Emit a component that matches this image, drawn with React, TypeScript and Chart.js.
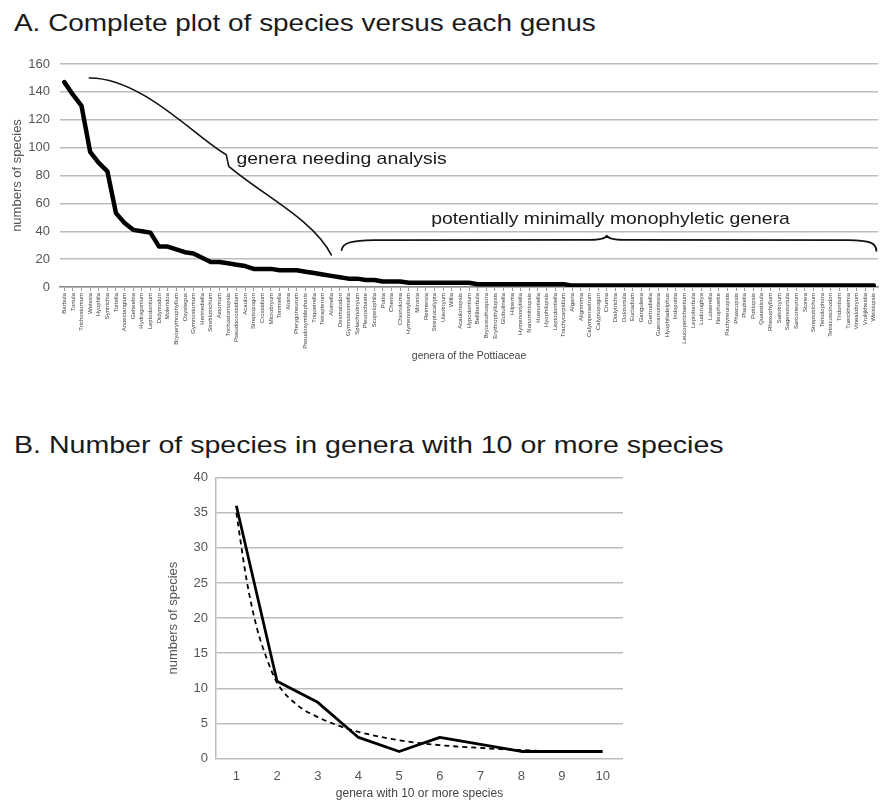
import React, { useEffect, useRef } from 'react';
import { Chart, registerables } from 'chart.js';

Chart.register(...registerables);

const FONT = '"Liberation Sans", Arial, Helvetica, sans-serif';
Chart.defaults.font.family = FONT;

// ---------- Panel A data ----------
const genera = [
  'Barbula', 'Tortula', 'Trichostomum', 'Weissia', 'Hyophila', 'Syntrichia', 'Tortella', 'Anoectangium',
  'Geheebia', 'Hydrogonium', 'Leptodontium', 'Didymodon', 'Molendoa', 'Bryoerythrophyllum', 'Oxystegus',
  'Gymnostomum', 'Hennediella', 'Streblotrichum', 'Astomum', 'Trichostomopsis', 'Pseudocrossidium', 'Acaulon',
  'Streptopogon', 'Crossidium', 'Microbryum', 'Timmiella', 'Aloina', 'Pterygoneurum', 'Pseudosymblepharis',
  'Triquetrella', 'Tetrapterum', 'Aloinella', 'Desmatodon', 'Gymnostomiella', 'Splachnobryum', 'Pleurochaete',
  'Scopelophila', 'Pottia', 'Chenia', 'Chionoloma', 'Hymenostylium', 'Mironia', 'Reimersia', 'Streptocalypta',
  'Uleobryum', 'Willia', 'Acaulonopsis', 'Hypodontium', 'Bellibarbula', 'Bryoceuthospora', 'Erythrophyllopsis',
  'Globulinella', 'Hilpertia', 'Hymenostyliella', 'Nanomitriopsis', 'Husnotiella', 'Hyophilopsis',
  'Leptodontiella', 'Trachycarpidium', 'Algaria', 'Aligrimmia', 'Calymperastrum', 'Calyptopogon', 'Crumia',
  'Dialytrichia', 'Dolotortula', 'Eucladium', 'Ganguleea', 'Gertrudiella', 'Guerramontesia', 'Hyophiladelphus',
  'Indopottia', 'Leucoperichaetium', 'Leptobarbula', 'Ludorugbya', 'Luisierella', 'Neophoebe', 'Pachyneuropsis',
  'Phascopsis', 'Plaubelia', 'Pottiopsis', 'Quaesticula', 'Rhexophyllum', 'Saitobryum', 'Sagenotortula',
  'Sarconeurum', 'Stonea', 'Streptotrichum', 'Teniolophora', 'Tetracoscinodon', 'Tridontium', 'Tuerckheimia',
  'Vinealobryum', 'Vrolijkheidia', 'Weisiopsis',
];

const speciesPerGenus = [
  147, 138, 130, 97, 89, 83, 53, 46, 41, 40,
  39, 29, 29, 27, 25, 24, 21, 18, 18, 17,
  16, 15, 13, 13, 13, 12, 12, 12, 11, 10,
  9, 8, 7, 6, 6, 5, 5, 4, 4, 4,
  3, 3, 3, 3, 3, 3, 3, 3,
  2, 2, 2, 2, 2, 2, 2, 2, 2, 2, 2,
  1, 1, 1, 1, 1, 1, 1, 1, 1, 1, 1, 1,
  1, 1, 1, 1, 1, 1, 1, 1, 1, 1, 1, 1,
  1, 1, 1, 1, 1, 1, 1, 1, 1, 1, 1, 1,
];

const yTicksA = [0, 20, 40, 60, 80, 100, 120, 140, 160];

// ---------- Panel B data ----------
const rankB = [1, 2, 3, 4, 5, 6, 7, 8, 9, 10];
const speciesB = [36, 11, 8, 3, 1, 3, 2, 1, 1, 1];
const trendX = [1, 1.25, 1.5, 1.75, 2, 2.5, 3, 3.5, 4, 5, 6, 7, 8, 9, 10];
const trendY = [35, 25.5, 18.7, 14.2, 10.8, 7.6, 5.9, 4.7, 3.8, 2.6, 1.9, 1.5, 1.2, 1.0, 0.9];
const yTicksB = [0, 5, 10, 15, 20, 25, 30, 35, 40];

const annotationA = {
  id: 'annotationA',
  afterDatasetsDraw(chart: any) {
    const { ctx } = chart;
    const x = chart.scales.x;
    const y = chart.scales.y;
    const px = (i: number) => x.getPixelForValue(i);
    const py = (v: number) => y.getPixelForValue(v);
    ctx.save();
    ctx.strokeStyle = '#111';
    ctx.lineCap = 'round';
    ctx.lineJoin = 'round';

    // curve over "genera needing analysis"
    ctx.lineWidth = 1.6;
    ctx.beginPath();
    ctx.moveTo(px(2.9), py(150));
    ctx.bezierCurveTo(px(9), py(150.5), px(15.5), py(106), px(18.8), py(95));
    ctx.lineTo(px(19.1), py(86.5));
    ctx.bezierCurveTo(px(23), py(66), px(29), py(48), px(31), py(23));
    ctx.stroke();

    // brace over "potentially minimally monophyletic genera"
    ctx.lineWidth = 1.8;
    ctx.beginPath();
    ctx.moveTo(px(32.2), py(26.5));
    ctx.bezierCurveTo(px(32.3), py(31.5), px(33.3), py(33.6), px(36), py(33.7));
    ctx.lineTo(px(61), py(33.8));
    ctx.quadraticCurveTo(px(62.8), py(33.8), px(63), py(36.8));
    ctx.quadraticCurveTo(px(63.2), py(33.8), px(65), py(33.8));
    ctx.lineTo(px(91), py(33.7));
    ctx.bezierCurveTo(px(93.6), py(33.6), px(94.3), py(31.5), px(94.3), py(26));
    ctx.stroke();

    ctx.fillStyle = '#1a1a1a';
    ctx.font = `17px ${FONT}`;
    ctx.textBaseline = 'alphabetic';
    ctx.textAlign = 'left';
    const stretched = (t: string, xi: number, yv: number) => {
      ctx.save();
      ctx.translate(px(xi), py(yv));
      ctx.scale(1.14, 1);
      ctx.fillText(t, 0, 0);
      ctx.restore();
    };
    stretched('genera needing analysis', 20, 88);
    stretched('potentially minimally monophyletic genera', 42.6, 45);
    ctx.restore();
  },
};

function ChartA() {
  const ref = useRef<HTMLCanvasElement>(null);
  useEffect(() => {
    const chart = new Chart(ref.current as HTMLCanvasElement, {
      type: 'line',
      data: {
        labels: genera,
        datasets: [
          {
            data: speciesPerGenus,
            borderColor: '#000',
            borderWidth: 4.5,
            pointRadius: 0,
            tension: 0,
            fill: false,
            borderJoinStyle: 'round',
            borderCapStyle: 'round',
          },
        ],
      },
      options: {
        responsive: false,
        animation: false,
        devicePixelRatio: 1,
        layout: { padding: { top: 24, right: 3, left: 0, bottom: 0 } },
        plugins: { legend: { display: false }, tooltip: { enabled: false } },
        scales: {
          x: {
            type: 'category',
            offset: true,
            grid: { display: true, drawOnChartArea: false, drawTicks: true, tickLength: 4, color: '#9a9a9a', lineWidth: 1 },
            border: { display: true, color: '#8c8c8c', width: 1.5 },
            ticks: { autoSkip: false, maxRotation: 90, minRotation: 90, padding: 2, font: { size: 6 }, color: '#3a3a3a' },
            title: { display: true, text: 'genera of the Pottiaceae', font: { size: 10.5 }, color: '#444', padding: { top: 0, bottom: 7.7 } },
            afterFit: (s: any) => { s.height = 83; },
          },
          y: {
            min: 0,
            max: 160,
            afterBuildTicks: (s: any) => { s.ticks = yTicksA.map((v) => ({ value: v })); },
            ticks: { padding: 10, font: { size: 13 }, color: '#555' },
            grid: { color: '#bdbdbd', lineWidth: 1.5, drawTicks: false },
            border: { display: false },
            title: { display: true, text: 'numbers of species', font: { size: 13 }, color: '#555', padding: { top: 10, bottom: 0 } },
            afterFit: (s: any) => { s.width = 60; },
          },
        },
      } as any,
      plugins: [annotationA],
    });
    return () => chart.destroy();
  }, []);
  return (
    <canvas
      ref={ref}
      width={883}
      height={330}
      style={{ position: 'absolute', left: 0, top: 40, width: 883, height: 330 }}
    />
  );
}

function ChartB() {
  const ref = useRef<HTMLCanvasElement>(null);
  useEffect(() => {
    const chart = new Chart(ref.current as HTMLCanvasElement, {
      type: 'line',
      data: {
        datasets: [
          {
            data: rankB.map((r, i) => ({ x: r, y: speciesB[i] })),
            borderColor: '#000',
            borderWidth: 2.8,
            pointRadius: 0,
            tension: 0,
            borderJoinStyle: 'round',
          },
          {
            data: trendX.map((t, i) => ({ x: t, y: trendY[i] })),
            borderColor: '#000',
            borderWidth: 1.8,
            borderDash: [5, 4],
            pointRadius: 0,
            cubicInterpolationMode: 'monotone',
          },
        ],
      },
      options: {
        responsive: false,
        animation: false,
        devicePixelRatio: 1,
        layout: { padding: { top: 17.7, left: 160, right: 260, bottom: 0 } },
        plugins: { legend: { display: false }, tooltip: { enabled: false } },
        scales: {
          x: {
            type: 'linear',
            min: 0.5,
            max: 10.5,
            afterBuildTicks: (s: any) => { s.ticks = rankB.map((v) => ({ value: v })); },
            grid: { display: false, drawTicks: false },
            border: { display: false },
            ticks: { padding: 10.5, font: { size: 13 }, color: '#555' },
            title: { display: true, text: 'genera with 10 or more species', font: { size: 12 }, color: '#444', padding: { top: 0, bottom: 0 } },
            afterFit: (s: any) => { s.height = 42.5; },
          },
          y: {
            min: 0,
            max: 40,
            afterBuildTicks: (s: any) => { s.ticks = yTicksB.map((v) => ({ value: v })); },
            ticks: { padding: 8, font: { size: 13 }, color: '#555' },
            grid: { color: '#bdbdbd', lineWidth: 1.5, drawTicks: false },
            border: { display: true, color: '#bdbdbd', width: 1.5 },
            title: { display: true, text: 'numbers of species', font: { size: 13 }, color: '#555', padding: { top: 5.5, bottom: 0 } },
            afterFit: (s: any) => { s.width = 56; },
          },
        },
      } as any,
    });
    return () => chart.destroy();
  }, []);
  return (
    <canvas
      ref={ref}
      width={883}
      height={341}
      style={{ position: 'absolute', left: 0, top: 460, width: 883, height: 341 }}
    />
  );
}

const titleStyle: React.CSSProperties = {
  position: 'absolute',
  left: 14,
  fontFamily: FONT,
  fontSize: 24,
  lineHeight: '24px',
  color: '#1a1a1a',
  whiteSpace: 'nowrap',
  transformOrigin: 'left top',
};

export default function App() {
  return (
    <div style={{ position: 'absolute', left: 0, top: 0, width: 883, height: 801, background: '#fff', overflow: 'hidden' }}>
      <div style={{ ...titleStyle, top: 10.7, transform: 'scaleX(1.163)' }}>
        A. Complete plot of species versus each genus
      </div>
      <ChartA />
      <div style={{ ...titleStyle, top: 432.7, transform: 'scaleX(1.19)' }}>
        B. Number of species in genera with 10 or more species
      </div>
      <ChartB />
    </div>
  );
}
